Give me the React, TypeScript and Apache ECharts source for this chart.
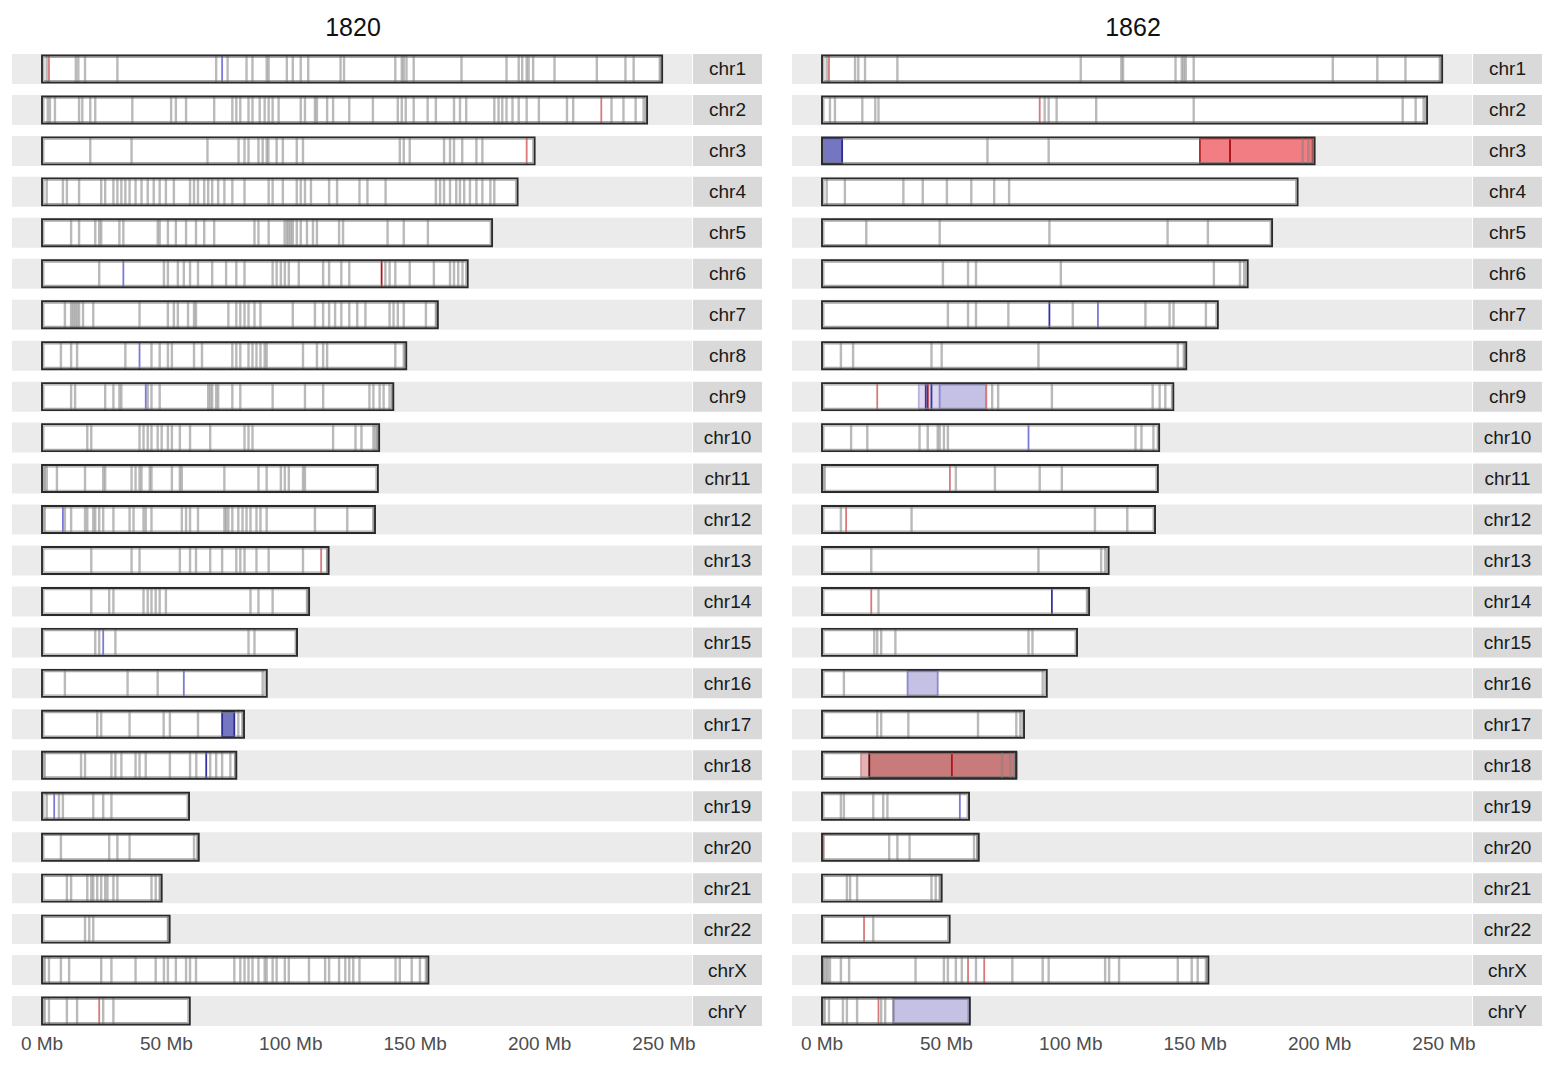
import React, { useEffect, useRef } from "react";
import * as echarts from "echarts";

const chrNames = ["chr1","chr2","chr3","chr4","chr5","chr6","chr7","chr8","chr9","chr10","chr11","chr12","chr13","chr14","chr15","chr16","chr17","chr18","chr19","chr20","chr21","chr22","chrX","chrY"];
const chrLengths = [249.25,243.2,198.0,191.15,180.9,171.1,159.1,146.4,141.2,135.5,135.0,133.85,115.2,107.35,102.5,90.35,81.2,78.1,59.1,63.0,48.1,51.3,155.3,59.4];
const sampleNames = ["1820", "1862"];
const xTicks = [0, 50, 100, 150, 200, 250];

// segment breakpoints (Mb) for sample 1820
const breaks1820: number[][] = [
  [1.9,13.6,14.6,17.3,30.3,70,74.6,82.2,84.6,90.3,91.1,98.4,100.8,104,107,120,121.4,142,144.6,145.4,146.5,149.4,168.6,186.7,191.6,193,194.8,195.6,197.4,206,223,234.5,237.8,248.3],
  [2.3,3.2,5.2,14.9,16.2,19.4,21.4,36.3,51.9,53.8,57.9,69.2,76.5,78.1,79.7,83,84.6,87.5,89.5,91.1,92.7,95.1,104,105.7,109.7,110.5,114.6,117,123.5,133,143,144.6,146.2,149.4,155,158.3,165.6,168,170.5,181.8,183.5,185,186.7,189.1,191.6,194.8,199.7,211,213.5,228.9,233.7,238.6,241.8],
  [19.4,36,66.5,79,81.4,83,87,88.7,90.3,91,94.3,96.8,102.4,104.9,143.8,145.4,147.8,161.6,164,165.6,168.9,174.6,177],
  [1.9,8.4,10,14.9,23.8,25.4,28.7,30.3,31.9,33.5,35.2,37.6,40,42.5,44.9,47.3,49.8,53,59.5,61.1,62.7,65.2,66.8,68.4,70.8,73.3,76.5,81.4,91.1,92.7,96.8,102.4,104,105.7,108.1,115.4,118.6,127.6,130.8,138.1,158.3,160,161.6,164,166.5,168,169.7,172,174.6,177,180.2,181.8],
  [11.7,14.9,21.4,23,23.8,31.1,32.7,46.5,47.3,50.6,53.8,57.9,61.9,65.2,69.2,85.4,87,91.1,97.5,98.4,99.2,100,100.8,102.4,104,106.5,108.9,110.5,119.4,121,138.9,145.4,155.1],
  [23,49,50.6,54.6,57,59.5,62.7,68.4,74,78.1,81.4,92.7,94.3,96,97.6,99.2,103.2,113,115.4,120.3,123.5,138,139.7,142,147.8,157.5,164,165.6,167.3,169],
  [9.2,11.7,12.5,13.3,14.1,14.9,16.5,20.6,39.2,50.6,53,54.6,58.7,61.1,61.9,74.9,78.1,79.7,81.4,83,85.4,87.8,100.8,109.7,113,115.4,117.8,120.3,123.5,126.7,130,139.7,141.3,143,145.4,154.3,158.3],
  [7.6,11.7,14.1,33.5,44,47.3,50.6,52.2,61.1,64.3,76.5,78.1,79.7,83,84.6,86.2,87.8,89.5,90.3,104.9,110.5,113,114.6,142,145.4],
  [11.7,13.3,25.4,28.7,31.1,31.9,42.5,44,47.3,66.8,67.6,68.4,70,70.8,76.5,79.7,92.7,105.7,113,131.6,133.2,135.7,137.3,139.7,141],
  [18.2,19.8,39.2,40.8,42.5,44,46.5,48.1,50.6,52.2,55.4,59.5,67.6,81.4,83,84.6,117,126,128.4,133.2,134,134.8],
  [1.1,1.9,6,17.3,24.6,25.4,36,37.6,39.2,40,43.3,44,52.2,55.4,56.2,73.3,87,90.3,96,97.6,99.2,104.9,105.7],
  [1.1,9.2,11.7,17.3,18.2,20.6,21.4,23,24.6,28.7,35.2,36.8,40.8,41.7,44,56.2,57.9,59.5,62.7,73.3,74,74.9,76.5,78.9,80.6,82.2,83.8,86.2,87.8,90.3,109.7,122.7,133.2],
  [19.8,36,39.2,55.4,59.5,61.9,67.6,72.4,78.1,79.7,81.4,86.2,91.1,104.9,114.6],
  [19.8,27,28.7,40.8,42.5,44,45.7,47.3,49.8,83.8,87,92.7,106.5],
  [21.4,23,29.5,83,85.4,102.4],
  [9.2,34.4,46.5,88.7],
  [22.2,23.8,35.2,48.9,51.4,62.7,78.9,80.6],
  [1.1,15.7,17.3,27.9,29.5,31.9,37.6,39.2,41.7,51.4,59.5,62,67.6,70,72.4,75.7,77.8],
  [1.9,6.8,8.4,20.6,24.6,27.9],
  [7.6,27,30.3,35.2,61.1,62.7],
  [10,11.7,18.2,19.8,20.6,22.2,23.8,25.4,26.3,28.7,30.3,44,45.7,47.3],
  [17.3,19,20.6,50.6],
  [1.1,2.8,7.6,10.9,23.8,27.9,37.6,45.7,49,50.6,53.8,57.9,59.5,61.9,77.3,79.7,81.4,83,84.6,87,89.5,90.3,92.7,94.3,97.6,99.2,107.3,113.8,115.4,119.4,121.9,123.5,125.1,127.6,142.1,143.8,148.6,151.9,154.3],
  [1.1,2.8,10,14.1,24.6,28.7],
];

// segment breakpoints (Mb) for sample 1862
const breaks1862: number[][] = [
  [1.9,13.3,14.6,17.3,30.3,104,120.3,121,142.1,144.6,145.4,146.2,149.4,205.3,223.2,234.5,248.3],
  [3.2,5.2,16.2,21.4,22.7,89.5,91.1,94.3,110.2,149.4,233.4,238.6,241.8],
  [66.5,91.1,193.2,195.5],
  [1.9,9.2,32.7,40.5,50.2,60,69.2,75.2],
  [17.8,47.3,91.4,138.9,155.1],
  [48.6,58.7,61.9,96,157.5,168,169.7],
  [50.6,58.7,61.9,74.9,100.8,130,139.7,141.3,154.3],
  [7.6,12.5,44,48.1,87,143,145.4],
  [68.4,70.8,92.4,132.9,135.7,138],
  [11.7,18.2,39.2,42.5,46.5,47.3,49,50.6,126,128.4,133.2],
  [1.1,53.8,69.5,87.5,96.4],
  [7.6,36,109.7,122.7],
  [19.8,87,112.2,113.8],
  [22.7,106.5],
  [21,22.2,23.8,29.5,83,84.6],
  [8.8,88.7],
  [22.2,23.8,34.7,62.7,78.1,79.7],
  [72.4,75.7,77.3],
  [7.6,8.8,20.6,24.6,26.3],
  [27,30.3,35.2,61.1,62.4],
  [10,11.3,14.1,44,45.7,47.3],
  [20.6],
  [0.6,1.6,2.3,3.2,7.6,10.9,37.6,49,50.6,53.8,56.2,61.9,76.5,88.7,91.1,113.8,115.4,119.4,143,148.6,151,154.3],
  [1.1,2.8,8.4,10,14.1,23.8,25.4,28.7],
];

// coloured copy-number segments: [chrIndex, start, end, kind]
const blocks1820: [number, number, number, string][] = [
  [16, 72.4, 77.3, "lossDeep"],
];
const blocks1862: [number, number, number, string][] = [
  [2, 0, 8.1, "lossDeep"],
  [2, 151.9, 164, "gain"],
  [2, 164, 197.2, "gain"],
  [8, 38.9, 47.3, "lossPale"],
  [8, 47.3, 66, "loss"],
  [15, 34.4, 46.5, "loss"],
  [17, 15.7, 19, "gainPale"],
  [17, 19, 78.1, "gainDeep"],
  [23, 28.7, 59.4, "loss"],
];

// short coloured segments drawn as thin marks: [chrIndex, pos, kind]
const marks1820: [number, number, string][] = [
  [0, 2.8, "red"], [0, 72.4, "blue"], [1, 224.8, "red"], [2, 194.8, "red"],
  [5, 32.7, "blue"], [5, 136.5, "darkred"], [7, 39.2, "blue"], [8, 41.7, "blue"],
  [11, 8.4, "blue"], [12, 112.2, "red"], [14, 24.6, "blue"], [15, 57, "blue"],
  [17, 66, "darkblue"], [18, 4.9, "blue"], [23, 23, "red"],
];
const marks1862: [number, number, string][] = [
  [0, 2.8, "red"], [1, 87.5, "red"], [2, 164, "darkred"], [6, 91.4, "darkblue"], [6, 110.9, "blue"],
  [8, 22.2, "red"], [8, 41.7, "darkblue"], [8, 42.5, "darkred"], [8, 44, "darkblue"], [8, 66, "red"],
  [9, 83, "blue"], [10, 51.4, "red"], [11, 9.7, "red"], [13, 19.8, "red"], [13, 92.4, "darkblue"],
  [17, 52.2, "darkred"], [18, 55.4, "blue"], [19, 0.6, "red"], [21, 16.9, "red"],
  [22, 58.7, "red"], [22, 65.2, "red"], [23, 22.7, "red"],
];

const blockStyle: Record<string, { fill: string; stroke: string }> = {
  lossDeep: { fill: "#7476c2", stroke: "#2c2e90" },
  loss: { fill: "#c5c1e5", stroke: "#8c88d2" },
  lossPale: { fill: "#dcd7ef", stroke: "#b9b2e2" },
  gain: { fill: "#f27d82", stroke: "#b42828" },
  gainDeep: { fill: "#c97b7b", stroke: "#5e1414" },
  gainPale: { fill: "#e4b2b2", stroke: "#cc9a9a" },
};
const markColor: Record<string, string> = {
  red: "#d8797b",
  darkred: "#b0141c",
  blue: "#7a7ad8",
  darkblue: "#3434a8",
};

const FONT = "Liberation Sans";
const AX_MIN = -12.058;
const AX_MAX = 261.254;
const BAND_H = 30;
const BAR_H = 27;

function buildOption() {
  const series: any[] = [];
  const breaksAll = [breaks1820, breaks1862];
  const blocksAll = [blocks1820, blocks1862];
  const marksAll = [marks1820, marks1862];

  for (let p = 0; p < 2; p++) {
    series.push({
      type: "custom",
      xAxisIndex: p,
      yAxisIndex: p,
      z: 1,
      silent: true,
      data: chrNames.map((_, i) => [0, i]),
      renderItem: (params: any, api: any) => {
        const cs = params.coordSys;
        const cy = api.coord([0, api.value(1)])[1];
        const name = chrNames[api.value(1)];
        return {
          type: "group",
          children: [
            { type: "rect", shape: { x: cs.x, y: cy - BAND_H / 2, width: cs.width, height: BAND_H }, style: { fill: "#ebebeb" } },
            { type: "rect", shape: { x: cs.x + cs.width + 1, y: cy - BAND_H / 2, width: 69, height: BAND_H }, style: { fill: "#d9d9d9" } },
            {
              type: "text",
              x: cs.x + cs.width + 35.5,
              y: cy,
              style: { text: name, fill: "#1a1a1a", fontSize: 19, fontFamily: FONT, textAlign: "center", textVerticalAlign: "middle" },
            },
          ],
        };
      },
    });
    series.push({
      type: "custom",
      xAxisIndex: p,
      yAxisIndex: p,
      z: 2,
      silent: true,
      data: chrLengths.map((len, i) => [len, i]),
      renderItem: (params: any, api: any) => {
        const a = api.coord([0, api.value(1)]);
        const b = api.coord([api.value(0), api.value(1)]);
        return { type: "rect", shape: { x: a[0], y: a[1] - BAR_H / 2, width: b[0] - a[0], height: BAR_H }, style: { fill: "#ffffff" } };
      },
    });
    series.push({
      type: "custom",
      xAxisIndex: p,
      yAxisIndex: p,
      z: 3,
      silent: true,
      data: blocksAll[p].map((b) => [b[1], b[0], b[2]]),
      renderItem: (params: any, api: any) => {
        const idx = api.value(1);
        const a = api.coord([api.value(0), idx]);
        const b = api.coord([api.value(2), idx]);
        const st = blockStyle[blocksAll[p][params.dataIndex][3]];
        return {
          type: "rect",
          shape: { x: a[0], y: a[1] - BAR_H / 2 + 1, width: b[0] - a[0], height: BAR_H - 2 },
          style: { fill: st.fill, stroke: st.stroke, lineWidth: 1.8 },
        };
      },
    });
    const bpData: number[][] = [];
    breaksAll[p].forEach((arr, i) => arr.forEach((pos) => bpData.push([pos, i])));
    series.push({
      type: "custom",
      xAxisIndex: p,
      yAxisIndex: p,
      z: 4,
      silent: true,
      data: bpData,
      renderItem: (params: any, api: any) => {
        const c = api.coord([api.value(0), api.value(1)]);
        return {
          type: "line",
          shape: { x1: c[0], y1: c[1] - BAR_H / 2, x2: c[0], y2: c[1] + BAR_H / 2 },
          style: { stroke: "rgba(130,130,130,0.55)", lineWidth: 2.4 },
        };
      },
    });
    series.push({
      type: "custom",
      xAxisIndex: p,
      yAxisIndex: p,
      z: 5,
      silent: true,
      data: marksAll[p].map((m) => [m[1], m[0]]),
      renderItem: (params: any, api: any) => {
        const c = api.coord([api.value(0), api.value(1)]);
        const col = markColor[marksAll[p][params.dataIndex][2]];
        return {
          type: "line",
          shape: { x1: c[0], y1: c[1] - BAR_H / 2, x2: c[0], y2: c[1] + BAR_H / 2 },
          style: { stroke: col, lineWidth: 1.8 },
        };
      },
    });
    series.push({
      type: "custom",
      xAxisIndex: p,
      yAxisIndex: p,
      z: 6,
      silent: true,
      data: chrLengths.map((len, i) => [len, i]),
      renderItem: (params: any, api: any) => {
        const a = api.coord([0, api.value(1)]);
        const b = api.coord([api.value(0), api.value(1)]);
        return {
          type: "group",
          children: [
            { type: "rect", shape: { x: a[0] + 1.8, y: a[1] - BAR_H / 2 + 1.8, width: b[0] - a[0] - 3.6, height: BAR_H - 3.6 }, style: { fill: "none", stroke: "rgba(130,130,130,0.7)", lineWidth: 1.2 } },
            { type: "rect", shape: { x: a[0], y: a[1] - BAR_H / 2, width: b[0] - a[0], height: BAR_H }, style: { fill: "none", stroke: "#2a2a2a", lineWidth: 1.9 } },
          ],
        };
      },
    });
  }

  const grids = [0, 1].map((p) => ({ left: 12 + p * 780, width: 680, top: 48.5, height: 983, containLabel: false }));

  return {
    animation: false,
    backgroundColor: "#ffffff",
    grid: grids,
    xAxis: [0, 1].map((p) => ({
      gridIndex: p,
      type: "value",
      min: AX_MIN,
      max: AX_MAX,
      axisLine: { show: false },
      axisTick: { show: false },
      splitLine: { show: false },
      axisLabel: {
        customValues: xTicks,
        formatter: (v: number) => `${v} Mb`,
        color: "#4d4d4d",
        fontSize: 19,
        fontFamily: FONT,
        margin: 2,
      },
    })),
    yAxis: [0, 1].map((p) => ({
      gridIndex: p,
      type: "category",
      data: chrNames,
      inverse: true,
      show: false,
    })),
    graphic: sampleNames.map((s, p) => ({
      type: "text",
      x: 353 + p * 780,
      y: 27,
      style: { text: s, fill: "#111111", fontSize: 25, fontFamily: FONT, textAlign: "center", textVerticalAlign: "middle" },
    })),
    series,
  };
}

export default function App() {
  const ref = useRef<HTMLDivElement>(null);
  useEffect(() => {
    if (!ref.current) return;
    const chart = echarts.init(ref.current, null, { renderer: "svg" });
    chart.setOption(buildOption());
    return () => chart.dispose();
  }, []);
  return <div ref={ref} style={{ position: "absolute", left: 0, top: 0, width: 1551, height: 1067, background: "#fff" }} />;
}
